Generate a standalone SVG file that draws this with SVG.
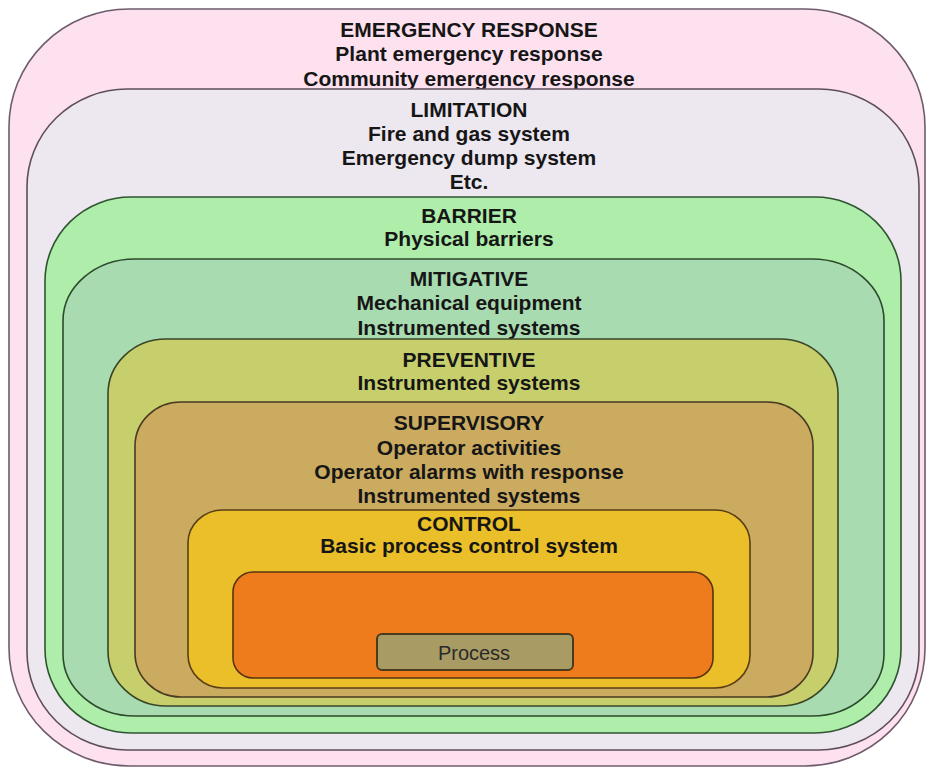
<svg xmlns="http://www.w3.org/2000/svg" width="928" height="767" viewBox="0 0 928 767">
<style>
.layer{stroke-width:1.6}
.t{font-family:"Liberation Sans",Arial,sans-serif;font-weight:bold;font-size:21px;fill:#161616;text-anchor:middle}
.p{font-family:"Liberation Sans",Arial,sans-serif;font-size:20px;fill:#2a2a2a;text-anchor:middle}
</style>
<rect width="928" height="767" fill="#ffffff"/>
<g id="emergency-response">
<rect class="layer" x="9" y="9" width="916" height="757" rx="120" ry="118" fill="#fde1ef" stroke="#6e5c6c"/>
<text class="t" x="469" y="37">EMERGENCY RESPONSE</text>
<text class="t" x="469" y="61">Plant emergency response</text>
<text class="t" x="469" y="86">Community emergency response</text>
</g>
<g id="limitation">
<rect class="layer" x="27" y="89" width="892" height="661" rx="100" ry="98" fill="#ede7f0" stroke="#5e4e5c"/>
<text class="t" x="469" y="117">LIMITATION</text>
<text class="t" x="469" y="141">Fire and gas system</text>
<text class="t" x="469" y="165">Emergency dump system</text>
<text class="t" x="469" y="189">Etc.</text>
</g>
<g id="barrier">
<rect class="layer" x="45" y="197" width="856" height="536" rx="86" ry="84" fill="#aeeeaa" stroke="#2f5530"/>
<text class="t" x="469" y="223">BARRIER</text>
<text class="t" x="469" y="246">Physical barriers</text>
</g>
<g id="mitigative">
<rect class="layer" x="63" y="259" width="821" height="457" rx="72" ry="62" fill="#a9dbb0" stroke="#2c4a2c"/>
<text class="t" x="469" y="286">MITIGATIVE</text>
<text class="t" x="469" y="310">Mechanical equipment</text>
<text class="t" x="469" y="335">Instrumented  systems</text>
</g>
<g id="preventive">
<rect class="layer" x="108" y="339" width="730" height="367" rx="58" ry="55" fill="#c6cf6c" stroke="#3a4526"/>
<text class="t" x="469" y="367">PREVENTIVE</text>
<text class="t" x="469" y="390">Instrumented systems</text>
</g>
<g id="supervisory">
<rect class="layer" x="135" y="402" width="678" height="295" rx="46" ry="44" fill="#cbab60" stroke="#4a3a22"/>
<text class="t" x="469" y="430">SUPERVISORY</text>
<text class="t" x="469" y="455">Operator activities</text>
<text class="t" x="469" y="479">Operator alarms with response</text>
<text class="t" x="469" y="503">Instrumented systems</text>
</g>
<g id="control">
<rect class="layer" x="188" y="510" width="562" height="178" rx="35" ry="33" fill="#ebbf2a" stroke="#5a3e14"/>
<text class="t" x="469" y="531">CONTROL</text>
<text class="t" x="469" y="553">Basic process control system</text>
</g>
<g id="process-area">
<rect class="layer" x="233" y="572" width="480" height="106" rx="20" ry="20" fill="#ef7c1c" stroke="#5a3410"/>
</g>
<g id="process">
<rect x="377" y="634" width="196" height="36" rx="5" ry="5" fill="#a89b64" stroke="#4a3a1e" stroke-width="2"/>
<text class="p" x="474" y="660">Process</text>
</g>
</svg>
